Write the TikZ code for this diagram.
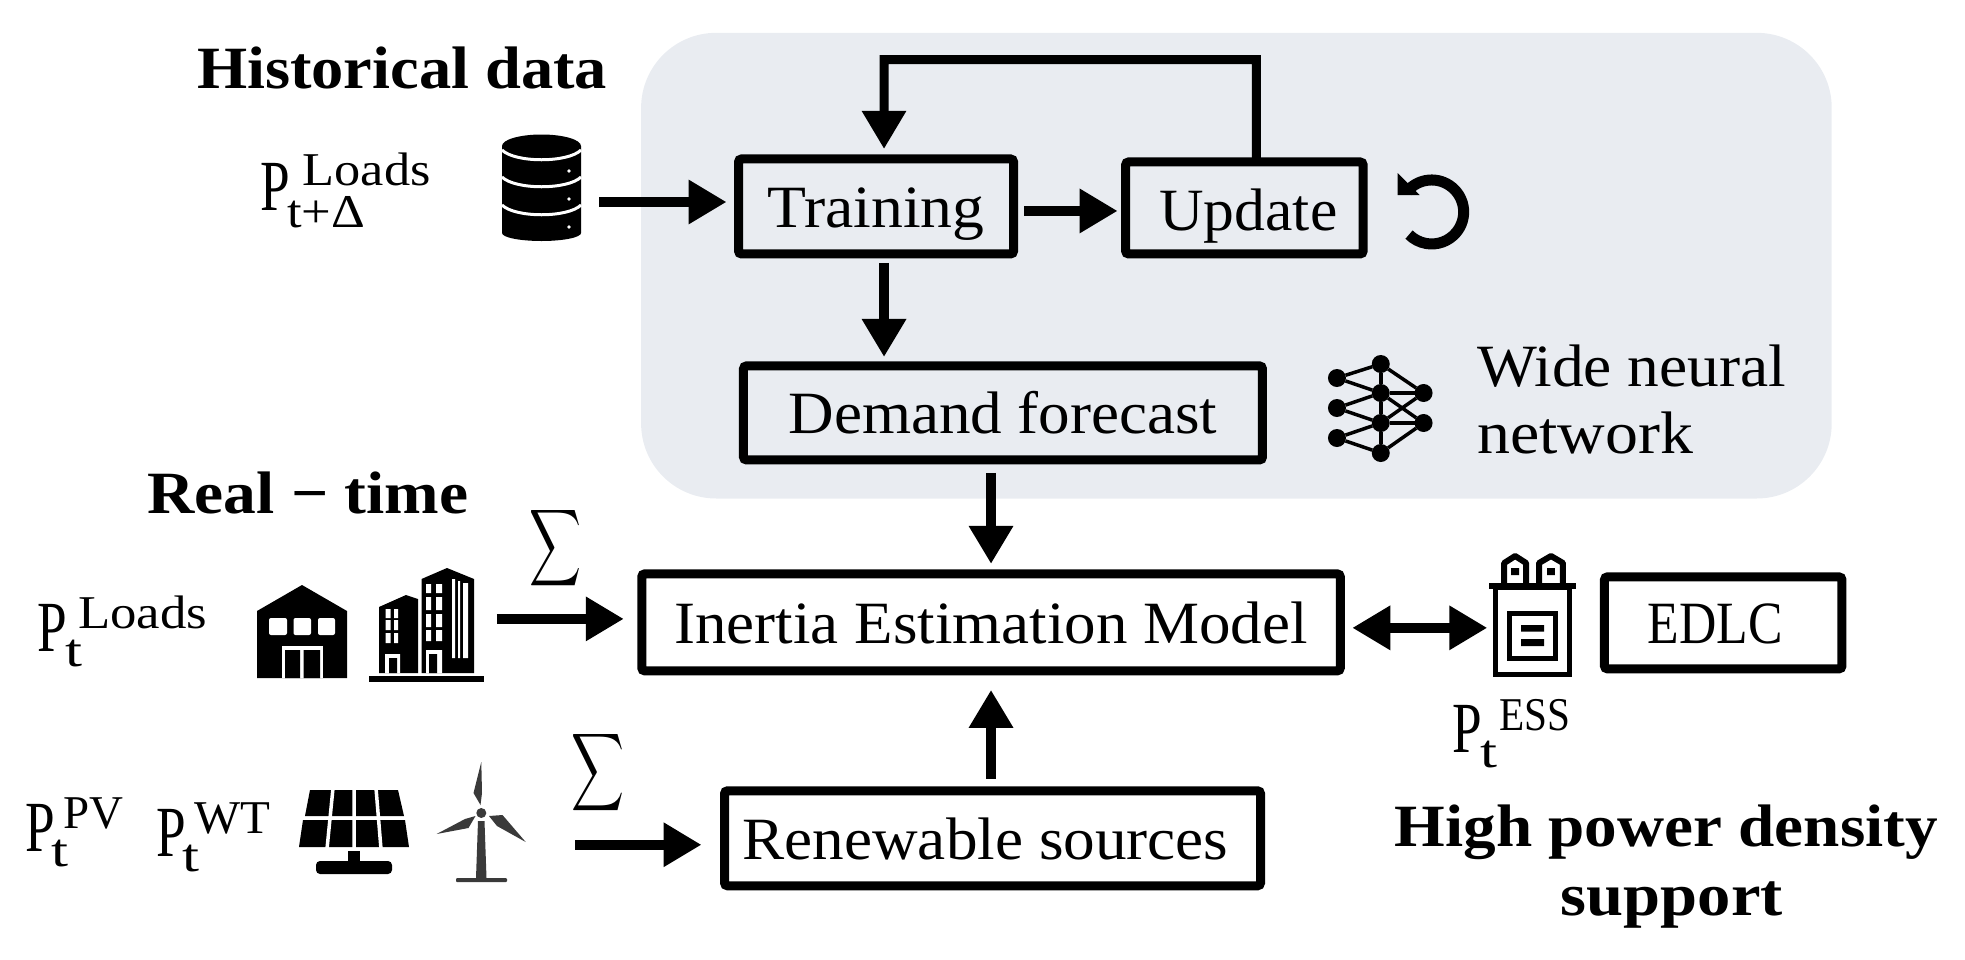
\documentclass[tikz,border=0pt]{standalone}
\usepackage{fontspec}
\usepackage{graphicx}
\setmainfont{Liberation Serif}
\usetikzlibrary{arrows.meta}
\definecolor{panel}{HTML}{E9ECF1}
\definecolor{turbine}{HTML}{3A3A3A}
\newcommand\ft[2]{\resizebox{#1pt}{\height}{#2}}
\newcommand\bodyf{\fontsize{60}{60}\selectfont}
\newcommand\subf{\fontsize{47}{47}\selectfont}
\newcommand\boldf{\fontsize{60}{60}\selectfont\bfseries}
% name, P x, P base, {sup x, sup width, sup base, sup, sub x, sub width, sub base, sub}
\newcommand\powersym[4]{%
  \node[txt] (#1p) at (#2,#3) {\scalebox{.74}[1]{\fontsize{72}{72}\selectfont P}};
  \powerrest{#1}#4}
\def\powerrest#1#2#3#4#5#6#7#8#9{%
  \node[txt] (#1s) at (#2,#4) {\subf\ft{#3}{#5}};
  \node[txt] (#1t) at (#6,#8) {\subf\ft{#7}{#9}};}
\tikzset{
  txt/.style={anchor=base west,inner sep=0pt,outer sep=0pt},
  bx/.style={draw=black,line width=9pt,rounded corners=3pt,inner sep=0pt,outer sep=0pt,
    text height=42pt,text depth=0pt,align=center,font=\bodyf},
  arr/.style={line width=10pt,-{Triangle[length=38pt,width=42pt]}},
  both/.style={line width=10pt,{Triangle[length=38pt,width=42pt]}-{Triangle[length=38pt,width=42pt]}},
  nn/.style={circle,fill=black,inner sep=0pt,minimum size=18pt,outer sep=0pt},
  nl/.style={line width=3.5pt},
}
\begin{document}
\begin{tikzpicture}[x=1pt,y=-1pt]
\useasboundingbox (0,0) rectangle (1965,959);
\begin{scope}[x=.9955pt,y=-.995pt]
% panel
\fill[panel,rounded corners=75pt] (644,33) rectangle (1840,501);
% boxes
\node[bx,minimum width=275pt,minimum height=95pt] (train) at (880,207.5) {\ft{217}{Training}};
\node[bx,minimum width=237.5pt,minimum height=92pt,text height=46pt] (update) at (1250,209) {\hspace*{8pt}\ft{178}{Update}};
\node[bx,minimum width=519pt,minimum height=94pt] (demand) at (1007.5,415) {\ft{429}{Demand forecast}};
\node[bx,minimum width=698.5pt,minimum height=97pt] (inertia) at (995.5,625.5) {\ft{633}{Inertia Estimation Model}};
\node[bx,minimum width=237.5pt,minimum height=92pt] (edlc) at (1731,626) {\hspace*{-16pt}\ft{135}{EDLC}};
\node[bx,minimum width=536pt,minimum height=95pt] (renew) at (997,842.5) {\hspace*{-14pt}\ft{486}{Renewable sources}};
% headings
\node[txt] (hist) at (198,88.5) {\boldf\ft{410}{Historical data}};
\node[txt] (real) at (148,516) {\boldf\ft{321}{Real − time}};
\node[txt] (high) at (1401,851) {\boldf\ft{543}{High power density}};
\node[txt] (supp) at (1568,920) {\boldf\ft{222}{support}};
\node[txt] (wide) at (1484,388) {\bodyf\ft{309}{Wide neural}};
\node[txt] (netw) at (1484,456) {\bodyf\ft{216}{network}};
% connectors
\coordinate (dbout) at (602,203);
\coordinate (tu) at (1029,212);
\coordinate (lout) at (499,622);
\coordinate (reout) at (578,849);
\coordinate (essin) at (1494,631);
\coordinate (uptop) at (1262,60);
\coordinate (tl) at (888,60);
\draw[arr,shorten >=12pt] (dbout) -- (train.west |- dbout);
\draw[arr,shorten >=8pt] (tu) -- (update.west |- tu);
\draw[arr,shorten >=10pt,line width=9pt] ([xshift=12pt]update.north) -- (uptop) -- (tl) -- ([xshift=8pt]train.north);
\draw[arr,shorten <=9pt,shorten >=9pt] ([xshift=8pt]train.south) -- ([xshift=8pt]train.south |- demand.north);
\draw[arr,shorten <=13pt,shorten >=10pt] (demand.south -| inertia.north) -- (inertia.north);
\draw[arr,shorten <=12pt,shorten >=19pt] (renew.north -| inertia.south) -- (inertia.south);
\draw[arr,shorten >=18pt] (lout) -- (inertia.west |- lout);
\draw[arr,shorten >=23pt] (reout) -- (renew.west |- reout);
\draw[both,shorten <=12pt] (inertia.east |- essin) -- (essin);
\end{scope}
% symbols
\powersym{a}{260}{210}{{302.6}{128}{185}{Loads}{287}{78}{227}{t+Δ}}
\powersym{b}{37}{651}{{78}{129}{628}{Loads}{65.5}{17}{666}{t}}
\powersym{c}{25}{851}{{63}{60}{828}{PV}{51}{17}{866}{t}}
\powersym{d}{156}{856}{{194}{76}{833}{WT}{182.4}{17}{871}{t}}
\node[inner sep=0pt,anchor=north west] (s1) at (529,505) {\resizebox*{52pt}{86pt}{$\displaystyle\sum$}};
\node[inner sep=0pt,anchor=north west] (s2) at (571,729) {\resizebox*{53pt}{87pt}{$\displaystyle\sum$}};
% database icon
\fill (502,146) arc[start angle=180,end angle=0,x radius=39.5pt,y radius=11.5pt]
  -- (581,233) arc[start angle=0,end angle=-180,x radius=39.5pt,y radius=8pt] -- cycle;
\foreach \yy in {150,177,205}{
  \draw[white,line width=3pt] (502,\yy) .. controls (515,\yy+13) and (568,\yy+13) .. (581,\yy);}
\fill[white] (569,171) circle[radius=1.8pt] (569,199) circle[radius=1.8pt] (569,227) circle[radius=1.8pt];
% house
\fill (257,611) -- (302,585) -- (347,611) -- (347,678) -- (257,678) -- cycle;
\fill[white,rounded corners=2pt] (269,618) rectangle (287,635) (293.5,618) rectangle (311,635) (318,618) rectangle (335,635);
\fill[white] (282,646) rectangle (322.5,678);
\fill (285,650) rectangle (300,678) (303.5,650) rectangle (320,678);
% buildings
\fill (369,676) rectangle (484,682);
\fill (379,607) -- (406,595) -- (418,599) -- (418,673) -- (379,673) -- cycle;
\fill (421.5,579) -- (447,568) -- (474,579) -- (474,673) -- (421.5,673) -- cycle;
\fill[white] (385.5,609) rectangle (390.5,618) (394,609) rectangle (398,618)
  (385.5,620) rectangle (390.5,630) (394,620) rectangle (398,630)
  (385.5,633) rectangle (390.5,643) (394,633) rectangle (398,643)
  (426,584) rectangle (431,593) (436,584) rectangle (442,593)
  (426,597) rectangle (431,610) (436,597) rectangle (442,610)
  (426,614) rectangle (431,627) (436,614) rectangle (442,627)
  (426,630) rectangle (431,641) (436,630) rectangle (442,641)
  (452,579) rectangle (455,658) (458,581) rectangle (460,658) (463,583) rectangle (468,658)
  (385,654) rectangle (400,673) (426,650) rectangle (442,673);
\fill (389,658) rectangle (397,673) (429,654) rectangle (437,673);
% solar panel
\fill (310,790) -- (398,790) -- (404,816) -- (305,816) -- cycle;
\fill (303,820) -- (405,820) -- (409,847) -- (299,847) -- cycle;
\draw[white,line width=3.5pt] (333,788) -- (327,849) (354,788) -- (354,849) (376,788) -- (381,849);
\fill (348,851) rectangle (360,861);
\fill[rounded corners=4pt] (316,861) rectangle (392,874);
% wind turbine
\fill[turbine] (478,821) -- (484.5,821) -- (486.5,878) -- (476,878) -- cycle;
\fill[turbine,rounded corners=1pt] (456,878) rectangle (507,882);
\fill[turbine] (481.3,813) circle[radius=5pt];
\fill[turbine] (481.3,762) -- (473.5,793) -- (480.5,805) -- (482,793) -- cycle;
\fill[turbine] (436.6,834) -- (468.5,828) -- (475.5,816) -- (465,819) -- cycle;
\fill[turbine] (525.7,842) -- (502.5,815) -- (489,816) -- (497,826) -- cycle;
\begin{scope}[x=.9955pt,y=-1pt]
\powersym{e}{1459}{752}{{1506}{71}{730}{ESS}{1487}{17}{767}{t}}
% refresh icon
\draw[line width=11pt] (1413.5,191.4) arc[start angle=140,end angle=-135,radius=32pt];
\fill (1404,173) -- (1404,195) -- (1426,195) -- cycle;
% neural network
\foreach \n/\x/\y in {l1/1343/378,l2/1343/408,l3/1343/438,m1/1387/364,m2/1387/393,m3/1387/423,m4/1387/453,r1/1430/393,r2/1430/423}
  \node[nn] (\n) at (\x,\y) {};
\foreach \a/\b in {l1/m1,l1/m2,l2/m2,l2/m3,l3/m3,l3/m4,m1/m2,m2/m3,m3/m4,m1/r1,m2/r1,m2/r2,m3/r1,m3/r2,m4/r2}
  \draw[nl] (\a) -- (\b);
% ESS icon
\draw[line width=5pt] (1502.5,587) rectangle (1577,674);
\fill (1495.6,583) rectangle (1583.5,589);
\draw[line width=5pt] (1516.5,613.5) rectangle (1562.5,658.5);
\fill (1528,625) rectangle (1551,631.7) (1528,639) rectangle (1551,646);
\draw[line width=6pt,line join=round] (1511,583) -- (1511,563) -- (1522,556) -- (1533,563) -- (1533,583);
\draw[line width=6pt,line join=round] (1546,583) -- (1546,563) -- (1558,556) -- (1570,563) -- (1570,583);
\fill (1518,568) rectangle (1526,575) (1554,568) rectangle (1562,575);
\end{scope}
\end{tikzpicture}
\end{document}
